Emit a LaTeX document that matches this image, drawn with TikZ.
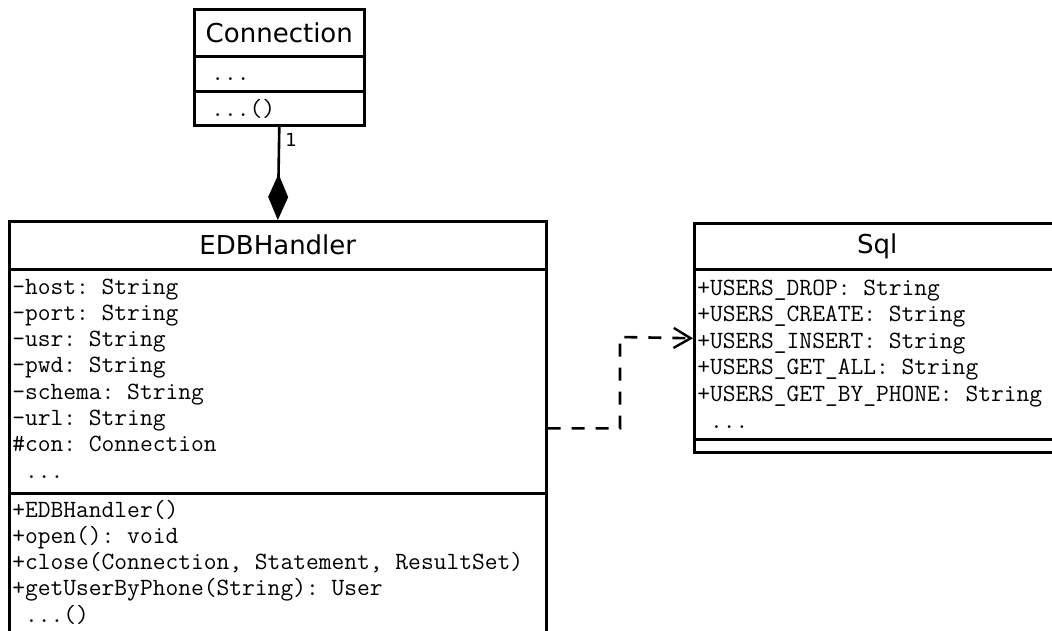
\documentclass[tikz,border=0pt]{standalone}
\usepackage{fontspec}
\setmainfont{DejaVu Sans}
\usetikzlibrary{arrows.meta,positioning}
\frenchspacing
\newcommand{\tripledot}{\hphantom{+}...}
\begin{document}
\begin{tikzpicture}[x=1pt, y=-1pt, line width=2.6pt]

    \tikzset{compartment/.style={%
      draw,%
      rectangle,%
      inner sep=0pt,%
      anchor=north west}%
    };

    \tikzset{classname/.style={compartment, font=\fontsize{26}{30}\selectfont}};

    \tikzset{member/.style={anchor=base west, inner sep=0pt,%
      font=\ttfamily\fontsize{24.8}{28}\selectfont}};

    \tikzset{dep/.style={dash pattern=on 13pt off 11pt,%
      -{Straight Barb[length=17pt, width=20pt, line width=2.4pt]}}};

    \clip (0,0) rectangle (1052,630);

    %%%%%%%%%%%%%%
    % Connection %
    %%%%%%%%%%%%%%
    \node [classname, minimum width=170pt, minimum height=47pt] (conname) at (193,8) {Connection};
    \node [compartment, minimum width=170pt, minimum height=35pt] (conattr) at (193,55) {};
    \node [compartment, minimum width=170pt, minimum height=34pt] (conmeth) at (193,90) {};

    \node [member] (condots) at (210,80) {...};
    \node [member] (conmdots) at (210,116) {...()};

    %%%%%%%%%%%%%
    % EDBHandler %
    %%%%%%%%%%%%%
    \node [classname, minimum width=537pt, minimum height=48pt] (edbname) at (8,220) {EDBHandler};
    \node [compartment, minimum width=537pt, minimum height=224pt] (edbattr) at (8,268) {};
    \node [compartment, minimum width=537pt, minimum height=160pt] (edbmeth) at (8,492) {};

    \foreach \txt [count=\i] in {-host: String, -port: String, -usr: String,
        -pwd: String, -schema: String, -url: String, {\#con: Connection},
        \tripledot}
      \node [member] (edbattr-\i) at (11, 294+26.3*\i-26.3) {\txt};

    \foreach \txt [count=\i] in {+EDBHandler(), +open(): void,
        {+close(Connection, Statement, ResultSet)},
        +getUserByPhone(String): User, {\tripledot()}}
      \node [member] (edbmeth-\i) at (11, 517+26.3*\i-26.3) {\txt};

    %%%%%%%
    % Sql %
    %%%%%%%
    \node [classname, minimum width=366pt, minimum height=46pt] (sqlname) at (693,222) {Sql};
    \node [compartment, minimum width=366pt, minimum height=170pt] (sqlattr) at (693,268) {};
    \node [compartment, minimum width=366pt, minimum height=13pt] (sqlmeth) at (693,438) {};

    \foreach \txt [count=\i] in {+USERS\textunderscore DROP: String,
        +USERS\textunderscore CREATE: String, +USERS\textunderscore INSERT: String,
        +USERS\textunderscore GET\textunderscore ALL: String,
        +USERS\textunderscore GET\textunderscore BY\textunderscore PHONE: String,
        \tripledot}
      \node [member] (sqlattr-\i) at (696, 295+26.6*\i-26.6) {\txt};

    %%%%%%%%%%%%%%%%
    % associations %
    %%%%%%%%%%%%%%%%
    \draw [-{Diamond[length=46pt, width=20pt]}] (conmeth.south) -- (edbname.north);
    \node [font=\fontsize{18}{20}\selectfont] (mult) at (291,140) {1};

    \coordinate (bend) at (620,337);
    \draw [dep] ([yshift=-47pt]edbattr.east) -| (bend) -- ([yshift=16pt]sqlattr.west);

  \end{tikzpicture}
\end{document}
